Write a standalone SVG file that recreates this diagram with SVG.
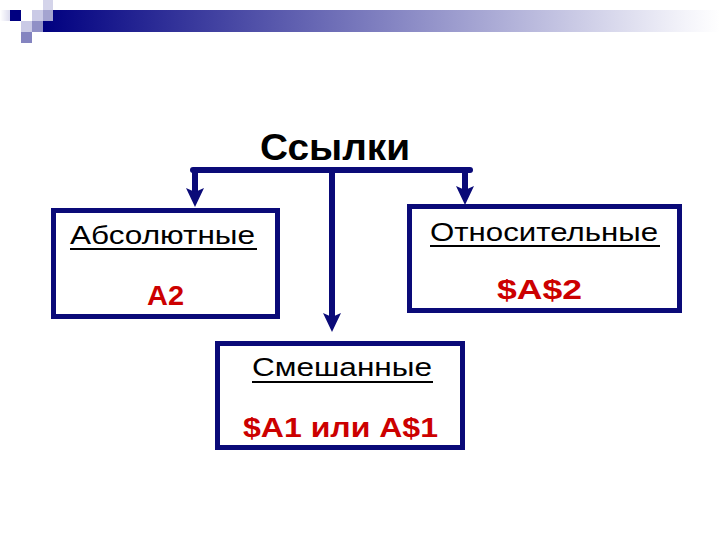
<svg xmlns="http://www.w3.org/2000/svg" width="720" height="540" viewBox="0 0 720 540">
  <defs>
    <linearGradient id="bar" x1="43" y1="0" x2="720" y2="0" gradientUnits="userSpaceOnUse">
      <stop offset="0" stop-color="#000080"/>
      <stop offset="0.95" stop-color="#f4f4fa"/>
      <stop offset="1" stop-color="#ffffff"/>
    </linearGradient>
    <linearGradient id="lt" x1="0" y1="0" x2="1" y2="0">
      <stop offset="0" stop-color="#ffffff"/>
      <stop offset="1" stop-color="#dcdcee"/>
    </linearGradient>
    <marker id="arr" viewBox="0 0 19 18" markerWidth="19" markerHeight="18" refX="7" refY="9" orient="auto" markerUnits="userSpaceOnUse">
      <path d="M0,0 L4,9 L0,18 L19,9 Z" fill="#0a0a78"/>
    </marker>
    <style>
      .box { fill: #ffffff; stroke: #0a0a78; stroke-width: 5; }
      .con { stroke: #0a0a78; stroke-width: 6; fill: none; }
      .lbl { font-family: "Liberation Sans", Arial, sans-serif; font-size: 26px; fill: #000000; }
      .val { font-family: "Liberation Sans", Arial, sans-serif; font-size: 28px; font-weight: bold; fill: #cc0000; }
      .ul { stroke: #000000; stroke-width: 2; }
      .title { font-family: "Liberation Sans", Arial, sans-serif; font-size: 36px; font-weight: bold; fill: #000000; }
    </style>
  </defs>
  <rect width="720" height="540" fill="#ffffff"/>

  <g id="header">
    <rect x="43" y="10" width="677" height="22" fill="url(#bar)"/>
    <rect x="0" y="10" width="10" height="11" fill="url(#lt)"/>
    <rect x="10" y="10" width="11" height="11" fill="#000080"/>
    <rect x="32" y="10" width="11" height="11" fill="#cacae6"/>
    <rect x="43" y="0" width="10" height="10" fill="#d4d4ea"/>
    <rect x="43" y="10" width="10" height="11" fill="#a4a4d0"/>
    <rect x="21" y="21" width="11" height="11" fill="#cacae6"/>
    <rect x="32" y="21" width="11" height="11" fill="#9090c6"/>
    <rect x="21" y="32" width="11" height="11" fill="#8484c0"/>
  </g>

  <g id="title">
    <text class="title" x="335" y="160" text-anchor="middle" textLength="150" lengthAdjust="spacingAndGlyphs">Ссылки</text>
  </g>

  <g id="connectors">
    <line class="con" x1="193" y1="170" x2="470" y2="170" stroke-linecap="round"/>
    <line class="con" x1="195" y1="170" x2="195" y2="195" marker-end="url(#arr)"/>
    <line class="con" x1="465" y1="170" x2="465" y2="193" marker-end="url(#arr)"/>
    <line class="con" x1="332" y1="170" x2="332" y2="320" marker-end="url(#arr)"/>
  </g>

  <g id="absolute">
    <rect class="box" x="53.5" y="210.5" width="224" height="106"/>
    <text class="lbl" x="70" y="244" textLength="185" lengthAdjust="spacingAndGlyphs">Абсолютные</text>
    <line class="ul" x1="70" y1="249" x2="257" y2="249"/>
    <text class="val" x="147" y="305" textLength="37" lengthAdjust="spacingAndGlyphs">A2</text>
  </g>

  <g id="relative">
    <rect class="box" x="409.5" y="206.5" width="270" height="104"/>
    <text class="lbl" x="430" y="241" textLength="228" lengthAdjust="spacingAndGlyphs">Относительные</text>
    <line class="ul" x1="430" y1="246" x2="660" y2="246"/>
    <text class="val" x="497" y="299" textLength="85" lengthAdjust="spacingAndGlyphs">$A$2</text>
  </g>

  <g id="mixed">
    <rect class="box" x="217.5" y="343.5" width="245" height="104"/>
    <text class="lbl" x="252" y="376" textLength="180" lengthAdjust="spacingAndGlyphs">Смешанные</text>
    <line class="ul" x1="252" y1="382" x2="433" y2="382"/>
    <text class="val" x="243" y="437" textLength="195" lengthAdjust="spacingAndGlyphs">$A1 или A$1</text>
  </g>
</svg>
